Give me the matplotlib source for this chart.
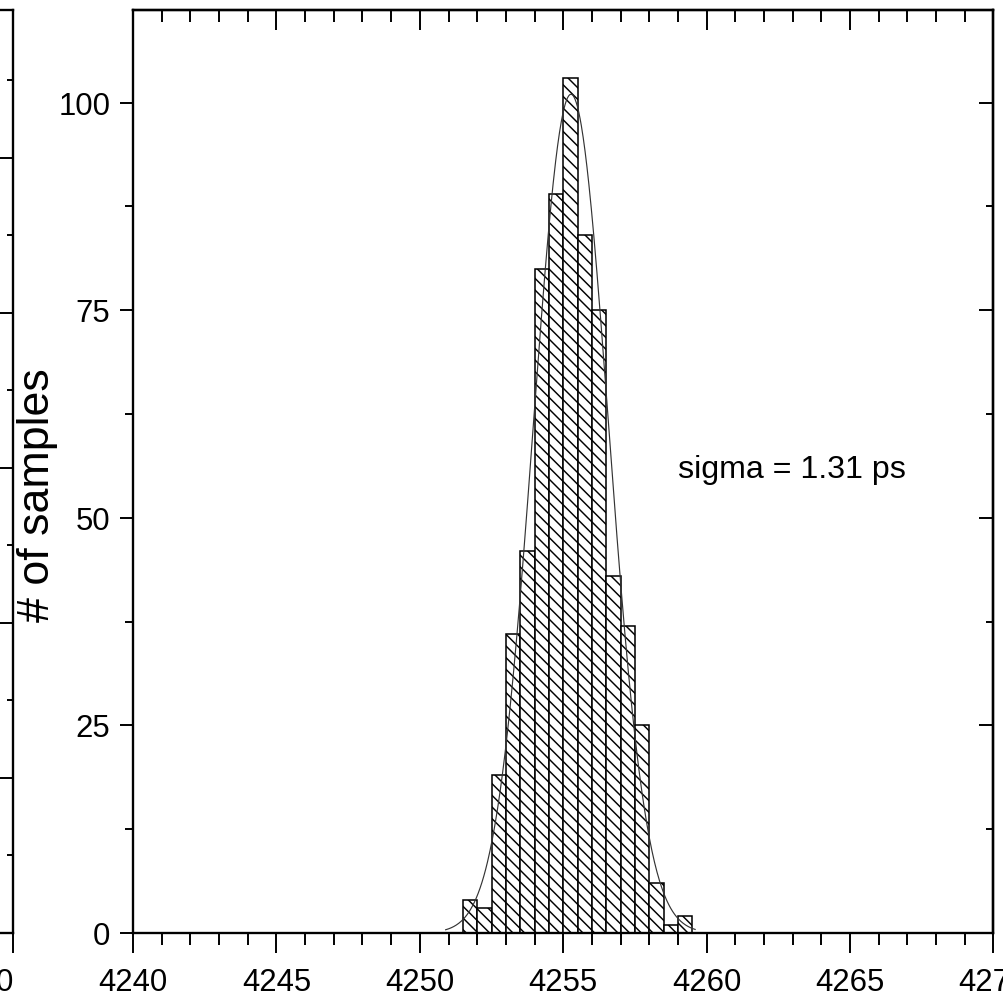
# Timing jitter histogram with gaussian fit
import numpy as np
import matplotlib
matplotlib.use('Agg')
import matplotlib.pyplot as plt
from matplotlib.ticker import MultipleLocator

# Histogram (bin width 0.5 ps)
bin_left = [4251.5, 4252.0, 4252.5, 4253.0, 4253.5, 4254.0, 4254.5, 4255.0,
            4255.5, 4256.0, 4256.5, 4257.0, 4257.5, 4258.0, 4258.5, 4259.0]
counts = [4, 3, 19, 36, 46, 80, 89, 103, 84, 75, 43, 37, 25, 6, 1, 2]
bin_width = 0.5

# Gaussian fit parameters
fit_center = 4255.27
fit_sigma = 1.31
fit_amp = 101.0
fit_start, fit_end = 4250.9, 4259.6

x_ticks = [4240, 4245, 4250, 4255, 4260, 4265, 4270]
y_ticks = [0, 25, 50, 75, 100]

DPI = 140
plt.rcParams['font.family'] = ['Liberation Sans', 'DejaVu Sans']
plt.rcParams['hatch.linewidth'] = 0.75
plt.rcParams['axes.linewidth'] = 1.2

fig = plt.figure(figsize=(1003.4 / DPI, 1002.4 / DPI), dpi=DPI)

# Main panel
ax = fig.add_axes([133 / 1003, 69 / 1002, 860 / 1003, 923 / 1002])
ax.bar(bin_left, counts, width=bin_width, align='edge', facecolor='white',
       edgecolor='black', linewidth=0.8, hatch='\\\\\\\\')

xs = np.linspace(fit_start, fit_end, 400)
ys = fit_amp * np.exp(-0.5 * ((xs - fit_center) / fit_sigma) ** 2)
ax.plot(xs, ys, color='#333333', lw=0.6)

ax.set_xlim(4240, 4270)
ax.set_ylim(0, 111.2)
ax.set_xticks(x_ticks)
ax.xaxis.set_minor_locator(MultipleLocator(1))
ax.set_yticks(y_ticks)
ax.yaxis.set_minor_locator(MultipleLocator(12.5))
ax.tick_params(axis='x', which='major', direction='out', length=10.3, width=1.0,
               pad=7.5, labelsize=16)
ax.tick_params(axis='x', which='minor', direction='out', length=6.2, width=1.0)
ax.tick_params(axis='y', which='major', direction='out', length=6.7, width=1.0,
               pad=5, labelsize=16)
ax.tick_params(axis='y', which='minor', direction='out', length=4.1, width=1.0)

# Mirrored ticks on top and right, pointing inwards
secx = ax.secondary_xaxis('top')
secx.set_xticks(x_ticks)
secx.xaxis.set_minor_locator(MultipleLocator(1))
secx.tick_params(which='major', direction='in', length=10.3, width=1.0,
                 labeltop=False, labelbottom=False)
secx.tick_params(which='minor', direction='in', length=6.2, width=1.0)

secy = ax.secondary_yaxis('right')
secy.set_yticks(y_ticks)
secy.yaxis.set_minor_locator(MultipleLocator(12.5))
secy.tick_params(which='major', direction='in', length=7.2, width=1.0,
                 labelright=False, labelleft=False)
secy.tick_params(which='minor', direction='in', length=3.6, width=1.0)

ax.text(4259.0, 54.8, 'sigma = 1.31 ps', ha='left', va='baseline', fontsize=16.5)

fig.text(37 / 1003, 1 - 495 / 1002, '# of samples', rotation=90, ha='center',
         va='center', fontsize=23)

# Edge of the neighbouring panel on the left
axL = fig.add_axes([(13 - 860) / 1003, 69 / 1002, 860 / 1003, 923 / 1002])
axL.set_xlim(4240, 4270)
axL.set_ylim(0, 119.1)
axL.spines['left'].set_visible(False)
axL.set_xticks([4270])
axL.set_xticklabels(['0'])
for lab in axL.get_xticklabels():
    lab.set_ha('right')
axL.tick_params(axis='x', which='major', direction='out', length=10.3, width=1.0,
                pad=7.5, labelsize=16)
axL.yaxis.tick_right()
axL.yaxis.set_major_locator(MultipleLocator(20))
axL.yaxis.set_minor_locator(MultipleLocator(10))
axL.tick_params(axis='y', which='major', direction='in', length=6.7, width=1.0,
                labelright=False)
axL.tick_params(axis='y', which='minor', direction='in', length=3.1, width=1.0)

fig.savefig('out.png', dpi=DPI)
